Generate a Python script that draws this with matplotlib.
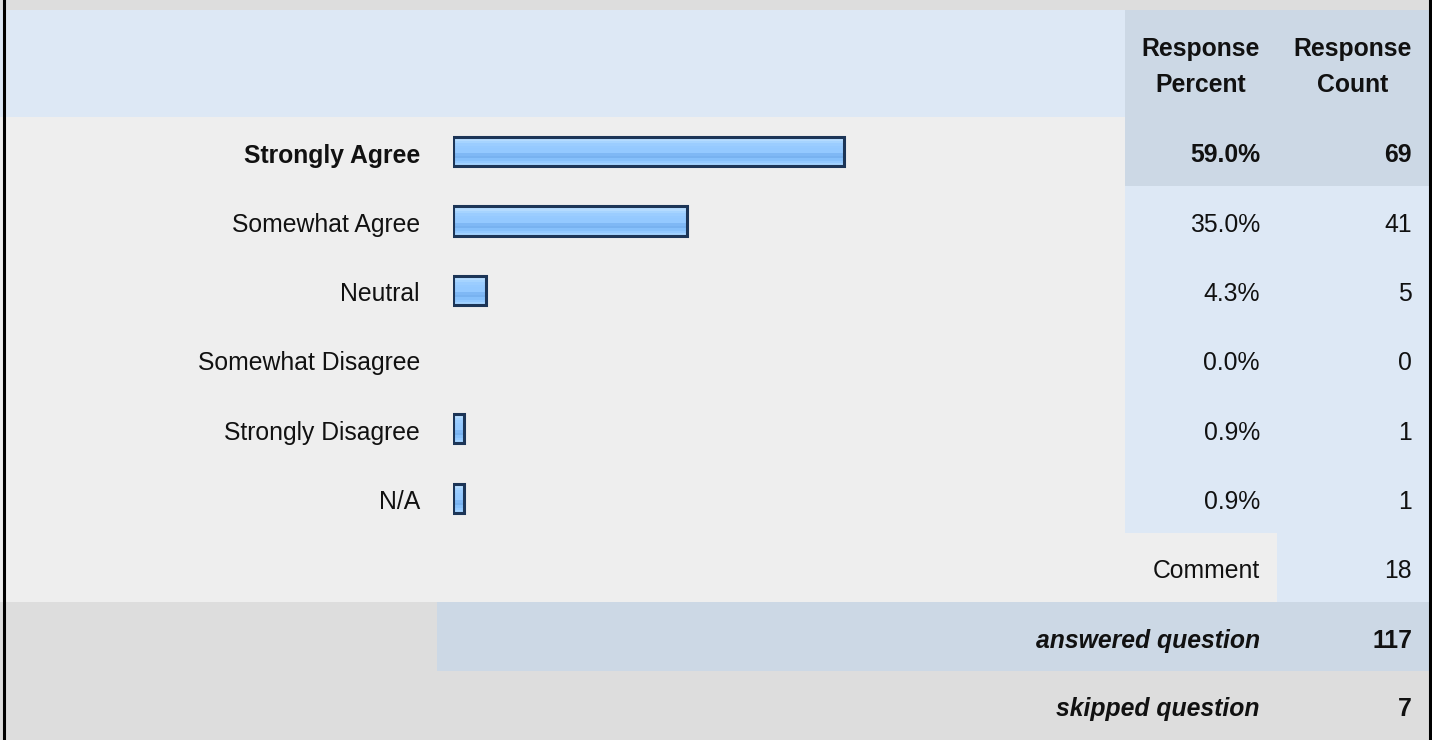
import matplotlib.pyplot as plt
import numpy as np
from matplotlib.patches import Rectangle

# Survey data
categories = ["Strongly Agree", "Somewhat Agree", "Neutral",
              "Somewhat Disagree", "Strongly Disagree", "N/A"]
percents = [59.0, 35.0, 4.3, 0.0, 0.9, 0.9]
counts = [69, 41, 5, 0, 1, 1]
comment_count = 18
answered = 117
skipped = 7

plt.rcParams["font.family"] = ["Liberation Sans", "DejaVu Sans"]
FS = 17.8

W, H = 1432, 740
fig = plt.figure(figsize=(W / 100, H / 100), dpi=100)

# Layout axes in pixel units (y down).
ax = fig.add_axes([0, 0, 1, 1])
ax.set_xlim(0, W)
ax.set_ylim(H, 0)
ax.axis("off")

GRAY = "#dddddd"
BODY = "#eeeeee"
LIGHT = "#dde8f5"
DARK = "#ccd8e5"

head_top, head_bot = 10, 117
row_h = 69.3
n = len(categories)
body_bot = head_bot + (n + 1) * row_h      # 6 answer rows + comment row
ans_bot = body_bot + row_h
col_pct = 1125
col_cnt = 1277
right = 1429


def rect(x0, y0, x1, y1, c):
    ax.add_patch(Rectangle((x0, y0), x1 - x0, y1 - y0, facecolor=c,
                           edgecolor="none", zorder=0))


rect(0, 0, W, H, GRAY)
rect(0, head_top, col_pct, head_bot, LIGHT)
rect(col_pct, head_top, right, head_bot, DARK)
rect(0, head_bot, right, body_bot, BODY)
for i in range(n):
    top = head_bot + i * row_h
    rect(col_pct, top, right, top + row_h, DARK if i == 0 else LIGHT)
rect(col_cnt, head_bot + n * row_h, right, body_bot, LIGHT)
rect(437, body_bot, right, ans_bot, DARK)

# borders
ax.plot([3.5, 3.5], [0, H], color="black", lw=2.2, zorder=5)
ax.plot([1430.3, 1430.3], [0, H], color="black", lw=2.2, zorder=5)

# header
x_pct_c, x_cnt_c = 1201, 1353
for xc, lines in [(x_pct_c, ["Response", "Percent"]),
                  (x_cnt_c, ["Response", "Count"])]:
    ax.text(xc, 56, lines[0], ha="center", va="baseline", fontsize=FS,
            fontweight="bold", color="#111111")
    ax.text(xc, 92.5, lines[1], ha="center", va="baseline", fontsize=FS,
            fontweight="bold", color="#111111")

x_lab, x_pct, x_cnt = 420, 1260, 1412
base_off = 45.5
for i, (cat, p, c) in enumerate(zip(categories, percents, counts)):
    yb = head_bot + i * row_h + base_off
    w = "bold" if i == 0 else "normal"
    ax.text(x_lab, yb, cat, ha="right", va="baseline", fontsize=FS,
            fontweight=w, color="#111111")
    ax.text(x_pct, yb, f"{p:.1f}%", ha="right", va="baseline", fontsize=FS,
            fontweight=w, color="#111111")
    ax.text(x_cnt, yb, str(c), ha="right", va="baseline", fontsize=FS,
            fontweight=w, color="#111111")

yb = head_bot + n * row_h + base_off
ax.text(x_pct, yb, "Comment", ha="right", va="baseline", fontsize=FS,
        color="#111111")
ax.text(x_cnt, yb, str(comment_count), ha="right", va="baseline",
        fontsize=FS, color="#111111")

for yb, lab, val in [(body_bot + base_off, "answered question", answered),
                     (ans_bot + 44.7, "skipped question", skipped)]:
    ax.text(x_pct, yb, lab, ha="right", va="baseline", fontsize=FS,
            fontweight="bold", style="italic", color="#111111")
    ax.text(x_cnt, yb, str(val), ha="right", va="baseline", fontsize=FS,
            fontweight="bold", color="#111111")

# Bar axes: x from 453 px, 100% = 654 px; rows 0..5
bx0, scale = 453, 6.54
bax = fig.add_axes([bx0 / W, 1 - (head_bot + n * row_h) / H,
                    100 * scale / W, n * row_h / H])
bax.set_xlim(0, 100)
bax.set_ylim(n - 0.5, -0.5)
bax.axis("off")
bax.patch.set_alpha(0)

pad = 0.75
stripes = np.array([
    "#c8e4ff", "#b4dbff", "#a6d4ff", "#9bcdff", "#96caff", "#94c9ff",
    "#94c9ff", "#7fb8f5", "#78b2f0", "#86c0fb", "#92c8ff", "#a2d2ff",
])
rgb = np.array([[int(s[k:k + 2], 16) / 255 for k in (1, 3, 5)] for s in stripes])
grad = rgb[:, None, :]

widths = [p + pad if p > 0 else 0 for p in percents]
bars = bax.barh(range(n), widths, height=0.42, color="none",
                edgecolor="#1c3557", linewidth=2.2, zorder=3)
for b, p in zip(bars, percents):
    if p <= 0:
        b.set_visible(False)
        continue
    x, y = b.get_x(), b.get_y()
    im = bax.imshow(grad, extent=(x, x + b.get_width(), y + b.get_height(), y),
                    aspect="auto", interpolation="nearest", zorder=2)
    im.set_clip_path(b)

bax.set_xlim(0, 100)
bax.set_ylim(n - 0.5, -0.5)

fig.savefig("out.png", dpi=100)
